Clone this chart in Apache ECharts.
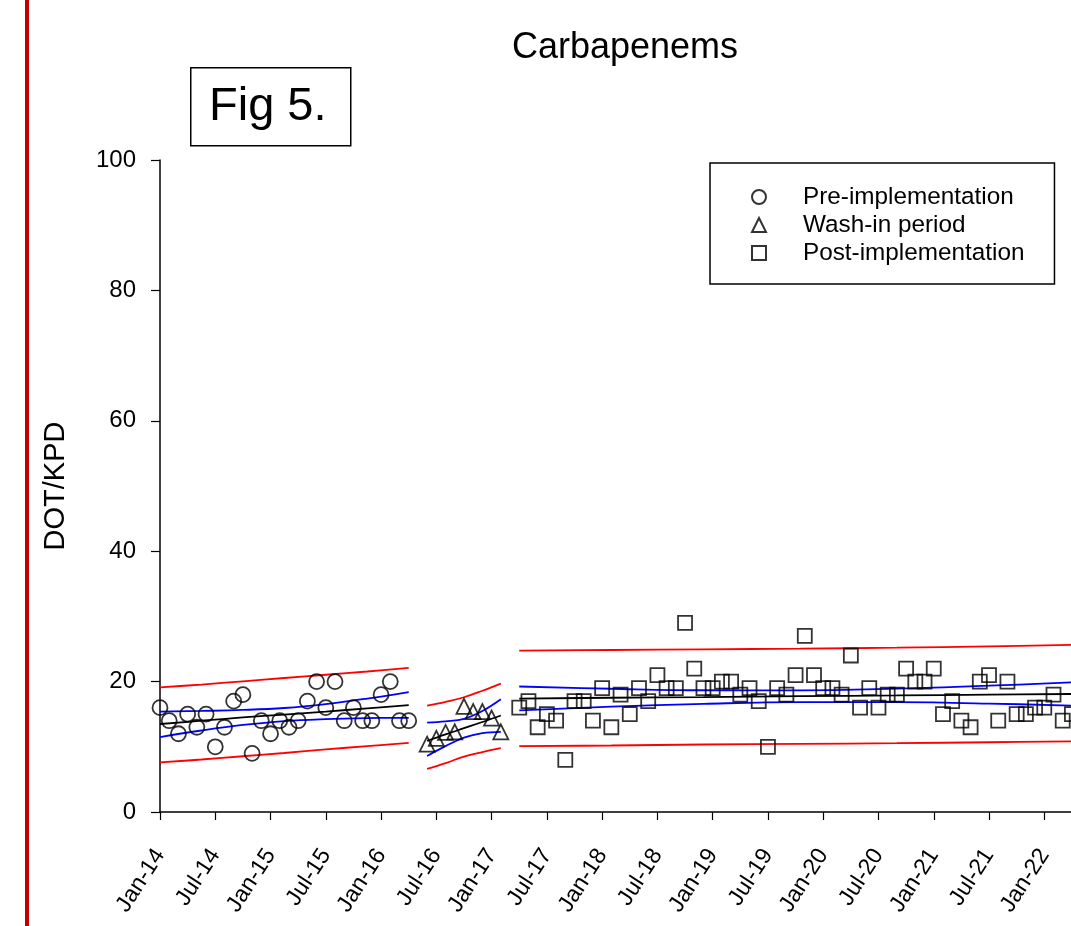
<!DOCTYPE html>
<html>
<head>
<meta charset="utf-8">
<title>Carbapenems</title>
<script src="https://cdn.jsdelivr.net/npm/echarts@6/dist/echarts.min.js"></script>
<style>
    html, body { margin: 0; padding: 0; background: #fff; }
    #chart { width: 1071px; height: 926px; }
</style>
</head>
<body>
<div id="chart"></div>
<script>
    // months counted from Jan-14 (= 0)
    const tickLabels = ['Jan-14', 'Jul-14', 'Jan-15', 'Jul-15', 'Jan-16', 'Jul-16', 'Jan-17', 'Jul-17', 'Jan-18',
        'Jul-18', 'Jan-19', 'Jul-19', 'Jan-20', 'Jul-20', 'Jan-21', 'Jul-21', 'Jan-22'];

    const preMonths = [0, 1, 2, 3, 4, 5, 6, 7, 8, 9, 10, 11, 12, 13, 14, 15, 16, 17, 18, 19, 20, 21, 22, 23, 24, 25, 26, 27];
    const preValues = [16, 14, 12, 15, 13, 15, 10, 13, 17, 18, 9, 14, 12, 14, 13, 14, 17, 20, 16, 20, 14, 16, 14, 14, 18, 20, 14, 14];

    const washMonths = [29, 30, 31, 32, 33, 34, 35, 36, 37];
    const washValues = [10.4, 11.3, 12.2, 12.3, 16.2, 15.4, 15.4, 14.4, 12.3];

    const postMonths = [39, 40, 41, 42, 43, 44, 45, 46, 47, 48, 49, 50, 51, 52, 53, 54, 55, 56, 57, 58, 59, 60, 61, 62,
        63, 64, 65, 66, 67, 68, 69, 70, 71, 72, 73, 74, 75, 76, 77, 78, 79, 80, 81, 82, 83, 84, 85, 86, 87, 88, 89,
        90, 91, 92, 93, 94, 95, 96, 97, 98, 99];
    const postValues = [16, 17, 13, 15, 14, 8, 17, 17, 14, 19, 13, 18, 15, 19, 17, 21, 19, 19, 29, 22, 19, 19, 20, 20,
        18, 19, 17, 10, 19, 18, 21, 27, 21, 19, 19, 18, 24, 16, 19, 16, 18, 18, 22, 20, 20, 22, 15, 17, 14, 13, 20,
        21, 14, 20, 15, 15, 16, 16, 18, 14, 15];

    // regression line, 95% confidence (blue) and prediction (red) bands
    const preFitMonths = [0, 4.5, 9, 13.5, 18, 22.5, 27];
    const preFit = [13.5, 14.0, 14.5, 14.95, 15.4, 15.9, 16.4];
    const preConfHi = [15.4, 15.5, 15.65, 15.95, 16.55, 17.4, 18.4];
    const preConfLo = [11.5, 12.5, 13.35, 13.95, 14.25, 14.4, 14.45];
    const prePredHi = [19.1, 19.55, 20.05, 20.55, 21.05, 21.55, 22.1];
    const prePredLo = [7.6, 8.05, 8.55, 9.05, 9.6, 10.1, 10.6];

    const washFitMonths = [29, 31, 33, 35, 37];
    const washFit = [10.9, 11.9, 12.85, 13.8, 14.8];
    const washConfHi = [13.7, 13.9, 14.3, 15.5, 17.3];
    const washConfLo = [8.6, 10.1, 11.4, 12.1, 12.3];
    const washPredHi = [16.3, 16.9, 17.6, 18.6, 19.7];
    const washPredLo = [6.6, 7.5, 8.5, 9.2, 9.8];

    const postFitMonths = [39, 49, 59, 69.5, 80, 90, 100];
    const postFit = [17.4, 17.52, 17.63, 17.76, 17.88, 18.0, 18.11];
    const postConfHi = [19.25, 18.9, 18.67, 18.66, 18.92, 19.37, 19.96];
    const postConfLo = [15.6, 16.15, 16.59, 16.86, 16.84, 16.63, 16.26];
    const postPredHi = [24.75, 24.85, 24.95, 25.05, 25.2, 25.4, 25.65];
    const postPredLo = [10.1, 10.2, 10.35, 10.45, 10.55, 10.7, 10.85];

    const FONT = 'Liberation Sans, Arial, sans-serif';

    const pairs = (xs, ys) => xs.map((x, i) => [x, ys[i]]);

    const fitLine = (xs, ys, color) => ({
        type: 'line',
        data: pairs(xs, ys),
        showSymbol: false,
        smooth: 0.4,
        silent: true,
        lineStyle: { color: color, width: 1.8 },
        z: 2
    });

    const points = (name, symbol, size, xs, ys) => ({
        name: name,
        type: 'scatter',
        symbol: symbol,
        symbolSize: size,
        clip: false,
        data: pairs(xs, ys),
        itemStyle: { color: 'rgba(0,0,0,0)', borderColor: '#000', borderWidth: 1.8 },
        z: 3
    });

    const chart = echarts.init(document.getElementById('chart'));

    const option = {
        animation: false,
        backgroundColor: '#fff',
        title: {
            text: 'Carbapenems',
            left: 620,
            top: 25,
            textAlign: 'center',
            textStyle: { fontFamily: FONT, fontSize: 36, fontWeight: 'normal', color: '#000' }
        },
        legend: {
            data: ['Pre-implementation', 'Wash-in period', 'Post-implementation'],
            orient: 'vertical',
            left: 710,
            top: 163,
            padding: [20, 30, 17, 41],
            itemGap: 0,
            itemWidth: 14,
            itemHeight: 14,
            borderColor: '#000',
            borderWidth: 1.5,
            textStyle: { fontFamily: FONT, fontSize: 24.3, color: '#000', lineHeight: 28, padding: [0, 0, 0, 32] }
        },
        // the plot runs past the right edge of the page; axis stops at the page edge
        grid: {
            left: 160,
            top: 160,
            right: 0,
            height: 652,
            containLabel: false
        },
        xAxis: {
            type: 'value',
            min: 0,
            max: 98.9,
            interval: 6,
            splitLine: { show: false },
            axisLine: { onZero: false, lineStyle: { color: '#000', width: 1.5 } },
            axisTick: { inside: false, length: 8, lineStyle: { color: '#000', width: 1.2 } },
            axisLabel: {
                rotate: 57,
                margin: 39,
                showMaxLabel: false,
                fontFamily: FONT,
                fontSize: 23,
                color: '#000',
                formatter: (v) => (v % 6 === 0 ? (tickLabels[v / 6] || '') : '')
            }
        },
        yAxis: {
            type: 'value',
            min: 0,
            max: 100,
            interval: 20,
            name: 'DOT/KPD',
            nameLocation: 'middle',
            nameGap: 90,
            nameTextStyle: { fontFamily: FONT, fontSize: 29, color: '#000' },
            splitLine: { show: false },
            axisLine: { show: true, lineStyle: { color: '#000', width: 1.5 } },
            axisTick: { show: true, inside: false, length: 9, lineStyle: { color: '#000', width: 1.2 } },
            axisLabel: { margin: 24, fontFamily: FONT, fontSize: 24, color: '#000' }
        },
        graphic: [
            {
                type: 'rect',
                left: 25,
                top: 0,
                shape: { width: 4, height: 926 },
                style: { fill: '#c00000' }
            },
            {
                type: 'rect',
                left: 190,
                top: 67,
                shape: { width: 160, height: 78 },
                style: { fill: '#fff', stroke: '#000', lineWidth: 1.5 }
            },
            {
                type: 'text',
                left: 209,
                top: 84,
                style: { text: 'Fig 5.', font: '47px ' + FONT, fill: '#000' }
            }
        ],
        series: [
            fitLine(preFitMonths, prePredHi, '#ff0000'),
            fitLine(preFitMonths, prePredLo, '#ff0000'),
            fitLine(preFitMonths, preConfHi, '#0000ff'),
            fitLine(preFitMonths, preConfLo, '#0000ff'),
            fitLine(preFitMonths, preFit, '#000'),
            fitLine(washFitMonths, washPredHi, '#ff0000'),
            fitLine(washFitMonths, washPredLo, '#ff0000'),
            fitLine(washFitMonths, washConfHi, '#0000ff'),
            fitLine(washFitMonths, washConfLo, '#0000ff'),
            fitLine(washFitMonths, washFit, '#000'),
            fitLine(postFitMonths, postPredHi, '#ff0000'),
            fitLine(postFitMonths, postPredLo, '#ff0000'),
            fitLine(postFitMonths, postConfHi, '#0000ff'),
            fitLine(postFitMonths, postConfLo, '#0000ff'),
            fitLine(postFitMonths, postFit, '#000'),
            points('Pre-implementation', 'circle', 15, preMonths, preValues),
            points('Wash-in period', 'triangle', 15, washMonths, washValues),
            points('Post-implementation', 'rect', 14, postMonths, postValues)
        ]
    };

    chart.setOption(option);
</script>
</body>
</html>
